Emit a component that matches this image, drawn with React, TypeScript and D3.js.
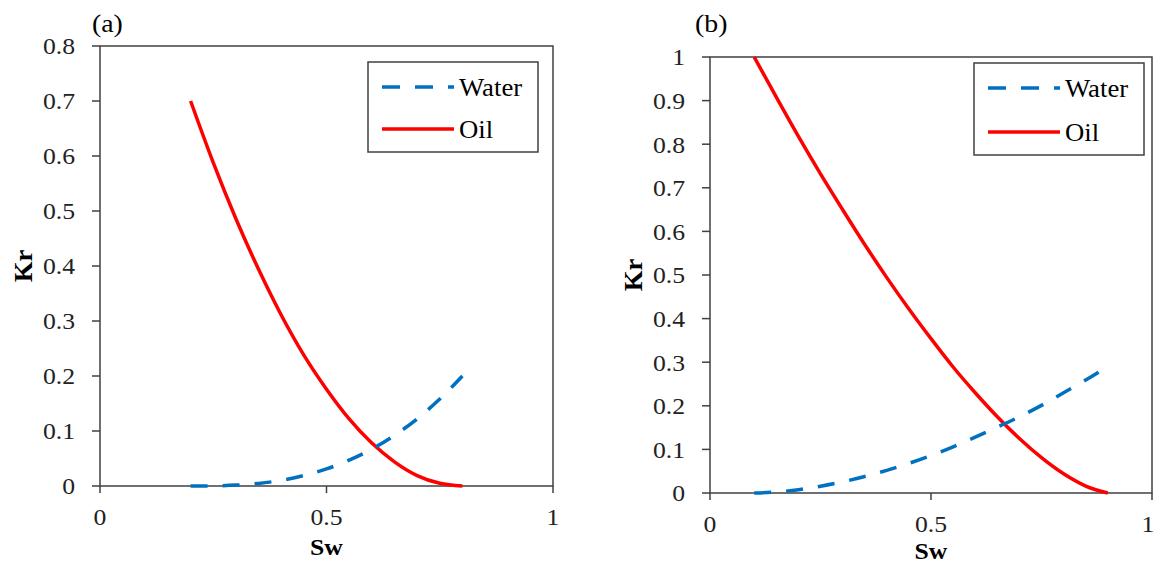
import React from "react";
import * as d3 from "d3";

// Panel (a)
const swA = [0.2, 0.25, 0.3, 0.35, 0.4, 0.45, 0.5, 0.55, 0.6, 0.65, 0.7, 0.75, 0.8];
const waterA = [0, 0.0003, 0.0016, 0.0047, 0.0103, 0.019, 0.031, 0.047, 0.067, 0.092, 0.122, 0.158, 0.2];
const oilA = [0.7, 0.588, 0.486, 0.394, 0.311, 0.238, 0.176, 0.122, 0.078, 0.044, 0.019, 0.005, 0];

// Panel (b)
const swB = [0.1, 0.15, 0.2, 0.25, 0.3, 0.35, 0.4, 0.45, 0.5, 0.55, 0.6, 0.65, 0.7, 0.75, 0.8, 0.85, 0.9];
const waterB = [0, 0.0023, 0.0076, 0.0155, 0.0256, 0.038, 0.052, 0.068, 0.086, 0.106, 0.128, 0.151, 0.175, 0.201, 0.23, 0.259, 0.29];
const oilB = [1.0, 0.908, 0.818, 0.732, 0.65, 0.57, 0.494, 0.422, 0.354, 0.289, 0.23, 0.175, 0.125, 0.081, 0.044, 0.016, 0];

const xTicks = [0, 0.5, 1];
const xTickLabels = ["0", "0.5", "1"];
const yTicksA = [0, 0.1, 0.2, 0.3, 0.4, 0.5, 0.6, 0.7, 0.8];
const yTicksB = [0, 0.1, 0.2, 0.3, 0.4, 0.5, 0.6, 0.7, 0.8, 0.9, 1];
const seriesNames = ["Water", "Oil"];
const panelLabels = ["(a)", "(b)"];

const FONT = "'Liberation Serif', 'Times New Roman', serif";
const BLUE = "#0070C0";
const RED = "#FF0000";
const AXIS = "#404040";
const SX = 1.07;

type TProps = {
  x: number;
  y: number;
  size: number;
  anchor?: "start" | "middle" | "end";
  bold?: boolean;
  rotate?: number;
  fill?: string;
  dy?: string;
  children: React.ReactNode;
};

function T({ x, y, size, anchor = "start", bold, rotate = 0, fill = "#000", dy, children }: TProps) {
  return (
    <text
      transform={`translate(${x},${y}) rotate(${rotate}) scale(${SX},1)`}
      textAnchor={anchor}
      fontFamily={FONT}
      fontSize={size}
      fontWeight={bold ? "bold" : "normal"}
      fill={fill}
      dy={dy}
    >
      {children}
    </text>
  );
}

type PanelProps = {
  sw: number[];
  water: number[];
  oil: number[];
  yTicks: number[];
  yMax: number;
  left: number;
  right: number;
  top: number;
  bottom: number;
  label: string;
  labelX: number;
  krX: number;
  swY: number;
  legend: { x: number; y: number; w: number; h: number };
};

function Panel(p: PanelProps) {
  const x = d3.scaleLinear().domain([0, 1]).range([p.left, p.right]);
  const y = d3.scaleLinear().domain([0, p.yMax]).range([p.bottom, p.top]);
  const line = d3
    .line<[number, number]>()
    .x((d) => x(d[0]))
    .y((d) => y(d[1]))
    .curve(d3.curveMonotoneX);
  const wPts = p.sw.map((s, i) => [s, p.water[i]] as [number, number]);
  const oPts = p.sw.map((s, i) => [s, p.oil[i]] as [number, number]);
  const fmt = (v: number) => (v === 0 ? "0" : v === 1 ? "1" : d3.format(".1f")(v));
  const lg = p.legend;
  const row1 = lg.y + 25;
  const row2 = lg.y + lg.h - 23;
  return (
    <g>
      <T x={p.labelX} y={32} size={26}>
        {p.label}
      </T>
      {/* plot border */}
      <rect
        x={p.left}
        y={p.top}
        width={p.right - p.left}
        height={p.bottom - p.top}
        fill="none"
        stroke={AXIS}
        strokeWidth={1.5}
      />
      {/* y ticks */}
      {p.yTicks.map((t) => (
        <g key={"y" + t}>
          <line x1={p.left - 8} x2={p.left} y1={y(t)} y2={y(t)} stroke={AXIS} strokeWidth={1.5} />
          <T x={p.left - 25} y={y(t)} dy="0.35em" anchor="end" size={24} fill="#222">
            {fmt(t)}
          </T>
        </g>
      ))}
      {/* x ticks */}
      {xTicks.map((t, i) => (
        <g key={"x" + t}>
          <line x1={x(t)} x2={x(t)} y1={p.bottom} y2={p.bottom + 7} stroke={AXIS} strokeWidth={1.5} />
          <T x={Math.min(x(t), 1148)} y={p.bottom + 39} anchor="middle" size={24} fill="#222">
            {xTickLabels[i]}
          </T>
        </g>
      ))}
      {/* axis titles */}
      <T x={(p.left + p.right) / 2} y={p.swY} anchor="middle" size={24} bold>
        Sw
      </T>
      <T x={p.krX} y={(p.top + p.bottom) / 2} anchor="middle" size={25} bold rotate={-90}>
        Kr
      </T>
      {/* curves */}
      <path d={line(oPts) || ""} fill="none" stroke={RED} strokeWidth={3.5} />
      <path
        d={line(wPts) || ""}
        fill="none"
        stroke={BLUE}
        strokeWidth={3.5}
        strokeDasharray="17,15"
      />
      {/* legend */}
      <rect x={lg.x} y={lg.y} width={lg.w} height={lg.h} fill="#fff" stroke={AXIS} strokeWidth={1.5} />
      <line
        x1={lg.x + 14}
        x2={lg.x + 86}
        y1={row1}
        y2={row1}
        stroke={BLUE}
        strokeWidth={3.5}
        strokeDasharray="18,15"
      />
      <T x={lg.x + 91} y={row1} dy="0.34em" size={25}>
        {seriesNames[0]}
      </T>
      <line x1={lg.x + 14} x2={lg.x + 86} y1={row2} y2={row2} stroke={RED} strokeWidth={3.5} />
      <T x={lg.x + 91} y={row2} dy="0.34em" size={25}>
        {seriesNames[1]}
      </T>
    </g>
  );
}

export default function App() {
  return (
    <svg
      width={1155}
      height={566}
      style={{ position: "absolute", left: 0, top: 0, background: "#fff" }}
    >
      <rect x={0} y={0} width={1155} height={566} fill="#fff" />
      <Panel
        sw={swA}
        water={waterA}
        oil={oilA}
        yTicks={yTicksA}
        yMax={0.8}
        left={100}
        right={553}
        top={46}
        bottom={486}
        label={panelLabels[0]}
        labelX={92}
        krX={32}
        swY={555}
        legend={{ x: 368, y: 62, w: 170, h: 90 }}
      />
      <Panel
        sw={swB}
        water={waterB}
        oil={oilB}
        yTicks={yTicksB}
        yMax={1}
        left={710}
        right={1152}
        top={57}
        bottom={493}
        label={panelLabels[1]}
        labelX={695}
        krX={642}
        swY={559}
        legend={{ x: 974, y: 63, w: 170, h: 92 }}
      />
    </svg>
  );
}
